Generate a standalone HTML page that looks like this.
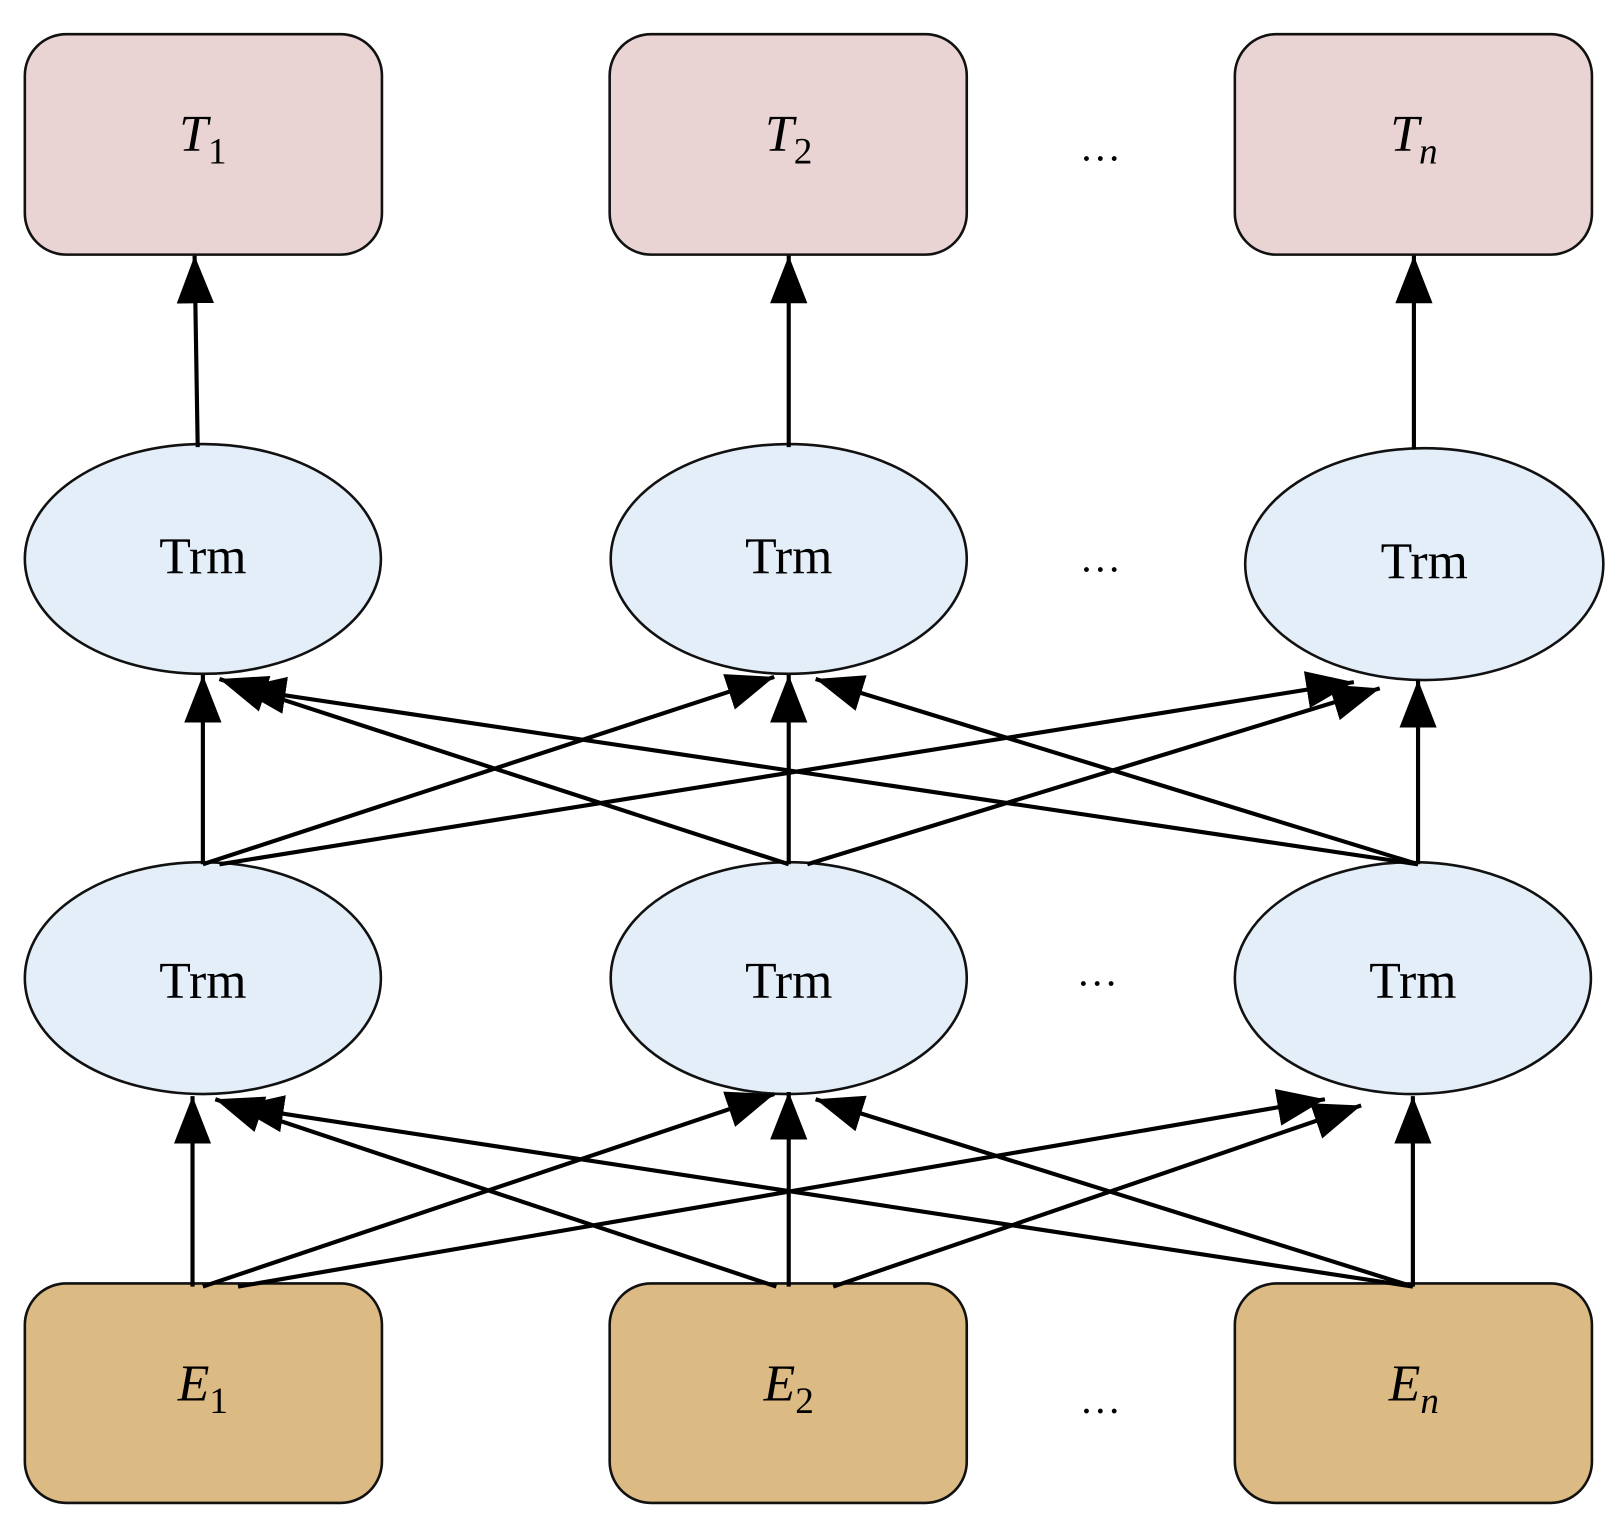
<!DOCTYPE html>
<html><head><meta charset="utf-8"><style>
html,body{margin:0;padding:0;background:#fff;}
svg{display:block}
text{font-family:"Liberation Serif",serif;}
</style></head><body>
<svg width="1623" height="1535" viewBox="0 0 1568 1483" xmlns="http://www.w3.org/2000/svg" preserveAspectRatio="none">
<defs>
<marker id="m" markerWidth="50" markerHeight="40" refX="46" refY="18" orient="auto" markerUnits="userSpaceOnUse">
<path d="M0,0 L46,18 L0,36 Z" fill="#000"/>
</marker>
</defs>
<g stroke="#111" stroke-width="2.5">
<rect x="24" y="33" width="345" height="213" rx="40" fill="#ead4d3"/>
<rect x="589" y="33" width="345" height="213" rx="40" fill="#ead4d3"/>
<rect x="1193" y="33" width="345" height="213" rx="40" fill="#ead4d3"/>
<ellipse cx="196" cy="540" rx="172" ry="111" fill="#e3eef9"/>
<ellipse cx="762" cy="540" rx="172" ry="111" fill="#e3eef9"/>
<ellipse cx="1376" cy="545" rx="173" ry="112" fill="#e3eef9"/>
<ellipse cx="196" cy="945" rx="172" ry="112" fill="#e3eef9"/>
<ellipse cx="762" cy="945" rx="172" ry="112" fill="#e3eef9"/>
<ellipse cx="1365" cy="945" rx="172" ry="112" fill="#e3eef9"/>
<rect x="24" y="1240" width="345" height="212" rx="40" fill="#dbba83"/>
<rect x="589" y="1240" width="345" height="212" rx="40" fill="#dbba83"/>
<rect x="1193" y="1240" width="345" height="212" rx="40" fill="#dbba83"/>
</g>
<g stroke="#000" stroke-width="4" marker-end="url(#m)" fill="none">
<line x1="191" y1="432" x2="188" y2="247"/>
<line x1="762" y1="432" x2="762" y2="247"/>
<line x1="1366" y1="434" x2="1366" y2="247"/>

<line x1="196" y1="835" x2="196" y2="652"/>
<line x1="762" y1="835" x2="212" y2="656"/>
<line x1="1370" y1="835" x2="230" y2="665"/>
<line x1="196" y1="835" x2="748" y2="654"/>
<line x1="762" y1="835" x2="762" y2="652"/>
<line x1="1370" y1="835" x2="788" y2="656"/>
<line x1="212" y1="835" x2="1308" y2="659"/>
<line x1="780" y1="835" x2="1333" y2="665"/>
<line x1="1370" y1="835" x2="1370" y2="657"/>

<line x1="186" y1="1243" x2="186" y2="1059"/>
<line x1="750" y1="1243" x2="208" y2="1062"/>
<line x1="1365" y1="1243" x2="228" y2="1069"/>
<line x1="196" y1="1243" x2="748" y2="1057"/>
<line x1="762" y1="1243" x2="762" y2="1055"/>
<line x1="1365" y1="1243" x2="788" y2="1062"/>
<line x1="230" y1="1243" x2="1280" y2="1062"/>
<line x1="805" y1="1243" x2="1315" y2="1068"/>
<line x1="1365" y1="1243" x2="1365" y2="1059"/>
</g>
<g font-size="50" fill="#000" text-anchor="middle">
<text x="196" y="146"><tspan font-style="italic">T</tspan><tspan font-size="36" dy="12">1</tspan></text>
<text x="762" y="146"><tspan font-style="italic">T</tspan><tspan font-size="36" dy="12">2</tspan></text>
<text x="1366" y="146"><tspan font-style="italic">T</tspan><tspan font-size="36" font-style="italic" dy="12">n</tspan></text>
<text x="196" y="554">Trm</text>
<text x="762" y="554">Trm</text>
<text x="1376" y="559">Trm</text>
<text x="196" y="964">Trm</text>
<text x="762" y="964">Trm</text>
<text x="1365" y="964">Trm</text>
<text x="196" y="1353"><tspan font-style="italic">E</tspan><tspan font-size="36" dy="12">1</tspan></text>
<text x="762" y="1353"><tspan font-style="italic">E</tspan><tspan font-size="36" dy="12">2</tspan></text>
<text x="1366" y="1353"><tspan font-style="italic">E</tspan><tspan font-size="36" font-style="italic" dy="12">n</tspan></text>
<text x="1063" y="155" font-size="40">…</text>
<text x="1063" y="552" font-size="40">…</text>
<text x="1060" y="952" font-size="40">…</text>
<text x="1063" y="1365" font-size="40">…</text>
</g>
</svg>
</body></html>
